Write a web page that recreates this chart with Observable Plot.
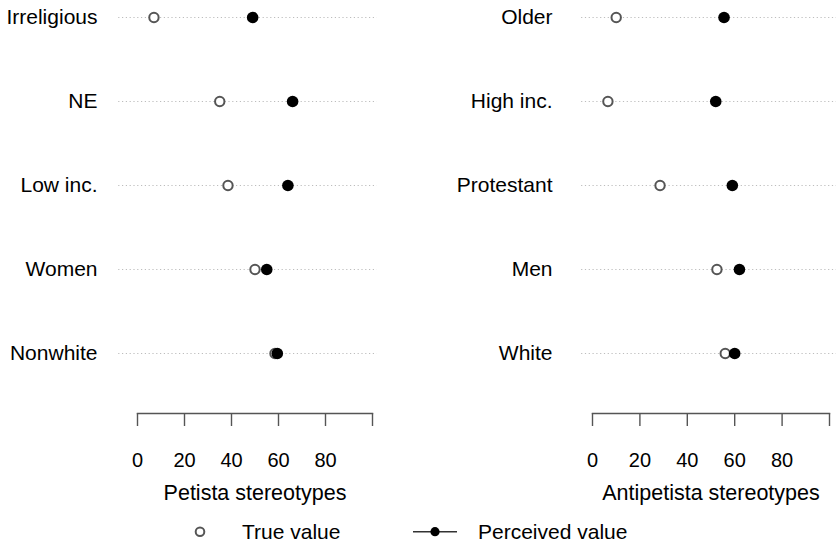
<!DOCTYPE html>
<html>
<head>
<meta charset="utf-8">
<script src="https://cdn.jsdelivr.net/npm/d3@7"></script>
<script src="https://cdn.jsdelivr.net/npm/@observablehq/plot@0.6"></script>
<style>
  html, body { margin: 0; padding: 0; background: #fff; }
  #wrap { position: relative; width: 836px; height: 545px; overflow: hidden; font-family: "Liberation Sans", Arial, sans-serif; }
  #left, #right, #legend { position: absolute; top: 0; }
  #left { left: 0; }
  #right { left: 418px; }
  #legend { left: 0; top: 510px; }
</style>
</head>
<body>
<div id="wrap">
  <div id="left"></div>
  <div id="right"></div>
  <div id="legend"></div>
</div>
<script>
// ---- data ----
const leftGroups = ["Irreligious", "NE", "Low inc.", "Women", "Nonwhite"];
const leftTrue = [7, 35, 38.5, 50, 58.5];
const leftPerceived = [49, 66, 64, 55, 59.5];
const leftTitle = "Petista stereotypes";
const leftLineExtent = [-8, 102];

const rightGroups = ["Older", "High inc.", "Protestant", "Men", "White"];
const rightTrue = [10, 6.5, 28.5, 52.5, 56];
const rightPerceived = [55.5, 52, 59, 62, 60];
const rightTitle = "Antipetista stereotypes";
const rightLineExtent = [-4.6, 103];

const xTicks = [0, 20, 40, 60, 80, 100];
const xTickLabels = ["0", "20", "40", "60", "80", ""];
const legendLabels = ["True value", "Perceived value"];

function panel(groups, trueVals, percVals, title, extent, marginLeft, marginRight) {
  const rows = groups.map((g, i) => ({group: g, trueVal: trueVals[i], perceived: percVals[i]}));
  return Plot.plot({
    width: 418,
    height: 510,
    marginTop: 16,
    marginBottom: 97,
    marginLeft,
    marginRight,
    style: {fontFamily: "'Liberation Sans', Arial, sans-serif", fontSize: "21px", color: "#000", background: "transparent"},
    x: {domain: [0, 100]},
    y: {domain: groups, padding: 0, insetBottom: 59},
    marks: [
      Plot.ruleY(rows, {y: "group", x1: extent[0], x2: extent[1], stroke: "#bdbdbd", strokeWidth: 1.2, strokeDasharray: "1.2 2.6"}),
      Plot.frame({anchor: "bottom", stroke: "#555", strokeWidth: 1.4}),
      Plot.axisX({ticks: xTicks, tickFormat: (d) => xTickLabels[xTicks.indexOf(d)], tickSize: 13, tickPadding: 26, stroke: "#555", strokeWidth: 1.4, fill: "#000", fontSize: 20, label: null}),
      Plot.axisX({ticks: [], tickSize: 0, fill: "#000", fontSize: 21.5, label: title, labelAnchor: "center", labelOffset: 86, labelArrow: "none"}),
      Plot.axisY({tickSize: 0, tickPadding: 40, fill: "#000", fontSize: 21, label: null}),
      Plot.dot(rows, {x: "trueVal", y: "group", r: 4.7, stroke: "#555", strokeWidth: 2, fill: "white"}),
      Plot.dot(rows, {x: "perceived", y: "group", r: 5.8, fill: "black", stroke: "none"})
    ]
  });
}

document.getElementById("left").appendChild(panel(leftGroups, leftTrue, leftPerceived, leftTitle, leftLineExtent, 137, 46));
document.getElementById("right").appendChild(panel(rightGroups, rightTrue, rightPerceived, rightTitle, rightLineExtent, 174, 7));

// legend
const lg = d3.create("svg").attr("width", 836).attr("height", 35)
  .style("font-family", "'Liberation Sans', Arial, sans-serif").style("font-size", "21px");
lg.append("circle").attr("cx", 200).attr("cy", 21.7).attr("r", 4.3).attr("fill", "white").attr("stroke", "#555").attr("stroke-width", 2);
lg.append("text").attr("x", 242).attr("y", 29).text(legendLabels[0]);
lg.append("line").attr("x1", 413).attr("x2", 457).attr("y1", 21.7).attr("y2", 21.7).attr("stroke", "#333").attr("stroke-width", 1.4);
lg.append("circle").attr("cx", 435).attr("cy", 21.7).attr("r", 4.6).attr("fill", "black");
lg.append("text").attr("x", 478).attr("y", 29).text(legendLabels[1]);
document.getElementById("legend").appendChild(lg.node());
</script>
</body>
</html>
